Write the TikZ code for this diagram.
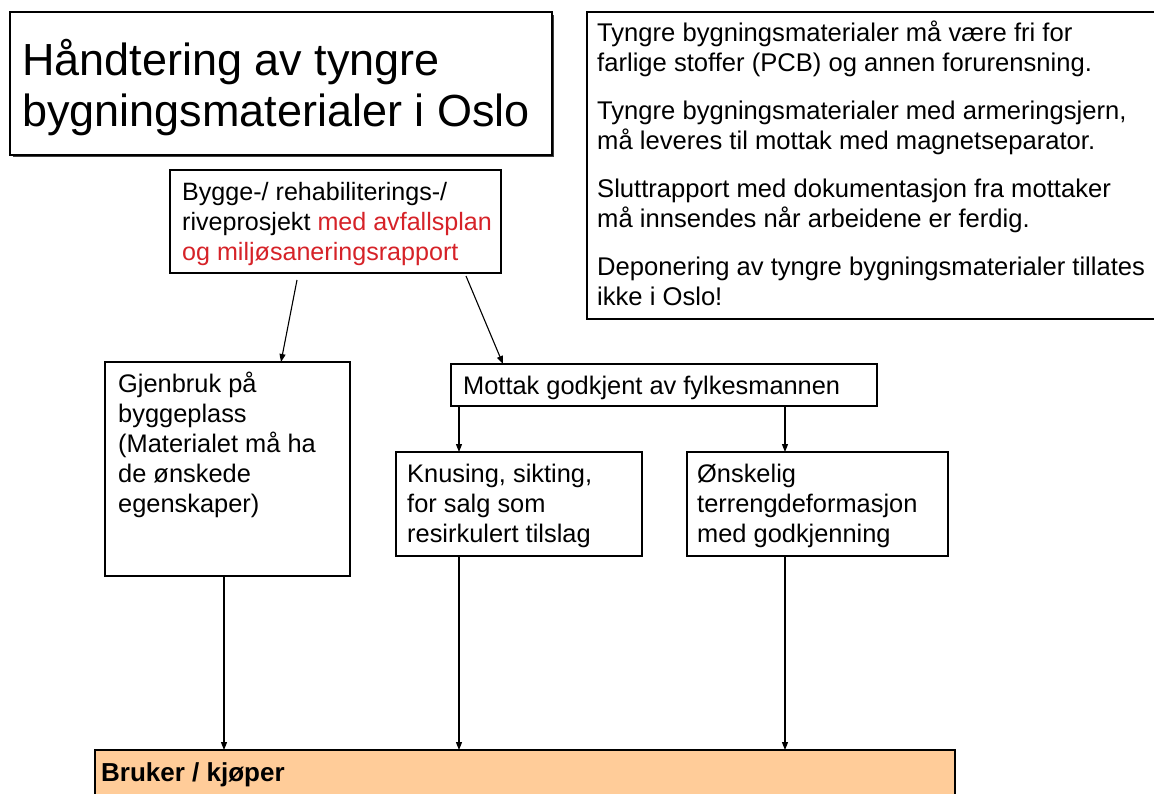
\documentclass[tikz,border=0pt]{standalone}
\usepackage{fontspec}
\setmainfont{Liberation Sans}
\usetikzlibrary{arrows.meta}
\definecolor{redtxt}{RGB}{214,34,40}
\definecolor{peach}{RGB}{255,204,153}
\begin{document}
\begin{tikzpicture}[x=1pt,y=-1pt,
  box/.style={draw, line width=1.3pt, inner sep=0pt, outer sep=0pt, anchor=north west},
  txt/.style={inner sep=0pt, anchor=base west, font=\fontsize{25.4}{30}\selectfont},
  arr/.style={line width=1.1pt, -{Triangle[length=8pt,width=6pt]}}]
\useasboundingbox (0,0) rectangle (1154,794);
\fill[white] (0,0) rectangle (1154,794);

% boxes
\fill[black!75] (13,15) rectangle (554,157);
\node[box, fill=white, line width=1.8pt, minimum width=542pt, minimum height=143pt] (title) at (10,12) {};
\node[box, minimum width=590pt, minimum height=307pt] (rules) at (587,12) {};
\node[box, minimum width=331pt, minimum height=103pt] (bygge) at (170,170) {};
\node[box, minimum width=245pt, minimum height=214pt] (gjen) at (105,362) {};
\node[box, minimum width=426pt, minimum height=42pt] (mottak) at (451,364) {};
\node[box, minimum width=246pt, minimum height=104pt] (knus) at (396,452) {};
\node[box, minimum width=261pt, minimum height=104pt] (onsk) at (687,452) {};
\node[box, fill=peach, minimum width=860pt, minimum height=60pt] (bruker) at (95,750) {};

% texts
\node[txt, font=\fontsize{45}{51}\selectfont] (titletxt) at (22,76)
  {\vtop{\hbox{Håndtering av tyngre}\hbox{bygningsmaterialer i Oslo}}};
\node[txt, font=\fontsize{25.6}{30}\selectfont] (rulestxt) at (597,42)
  {\vtop{\hbox{Tyngre bygningsmaterialer må være fri for}\hbox{farlige stoffer (PCB) og annen forurensning.}\vskip18pt
         \hbox{Tyngre bygningsmaterialer med armeringsjern,}\hbox{må leveres til mottak med magnetseparator.}\vskip18pt
         \hbox{Sluttrapport med dokumentasjon fra mottaker}\hbox{må innsendes når arbeidene er ferdig.}\vskip18pt
         \hbox{Deponering av tyngre bygningsmaterialer tillates}\hbox{ikke i Oslo!}}};
\node[txt, font=\fontsize{25.1}{30}\selectfont] (byggetxt) at (182,201)
  {\vtop{\hbox{Bygge-/ rehabiliterings-/}\hbox{riveprosjekt \textcolor{redtxt}{med avfallsplan}}\hbox{\textcolor{redtxt}{og miljøsaneringsrapport}}}};
\node[txt] (gjentxt) at (118,392)
  {\vtop{\hbox{Gjenbruk på}\hbox{byggeplass}\hbox{(Materialet må ha}\hbox{de ønskede}\hbox{egenskaper)}}};
\node[txt] (mottaktxt) at (463,394) {Mottak godkjent av fylkesmannen};
\node[txt] (knustxt) at (407,482)
  {\vtop{\hbox{Knusing, sikting,}\hbox{for salg som}\hbox{resirkulert tilslag}}};
\node[txt] (onsktxt) at (697,482)
  {\vtop{\hbox{Ønskelig}\hbox{terrengdeformasjon}\hbox{med godkjenning}}};
\node[txt, font=\fontsize{26}{30}\selectfont\bfseries] (brukertxt) at (101,781) {Bruker / kjøper};

% connectors
\draw[arr] ([shift={(127,7)}]bygge.south west) -- ([shift={(176,0)}]gjen.north west);
\draw[arr] ([shift={(296,3)}]bygge.south west) -- ([shift={(52,0)}]mottak.north west);
\coordinate (m1) at ([xshift=8pt]mottak.south west);
\coordinate (m2) at ([xshift=334pt]mottak.south west);
\draw[arr] (m1) -- (m1 |- knus.north);
\draw[arr] (m2) -- (m2 |- onsk.north);
\coordinate (g1) at ([xshift=119pt]gjen.south west);
\coordinate (k1) at ([xshift=63pt]knus.south west);
\coordinate (o1) at ([xshift=98pt]onsk.south west);
\draw[arr] (g1) -- (g1 |- bruker.north);
\draw[arr] (k1) -- (k1 |- bruker.north);
\draw[arr] (o1) -- (o1 |- bruker.north);
\end{tikzpicture}
\end{document}
